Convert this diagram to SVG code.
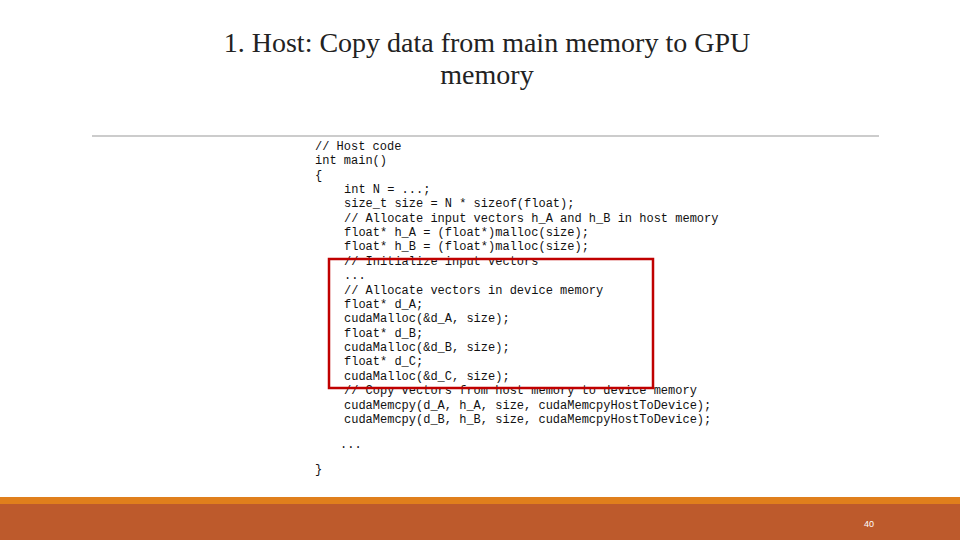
<svg xmlns="http://www.w3.org/2000/svg" width="960" height="540" viewBox="0 0 960 540">
<style>
.t{font-family:"Liberation Serif","DejaVu Serif",serif;font-size:28px;fill:#222;text-anchor:middle}
.c{font-family:"Liberation Mono","DejaVu Sans Mono",monospace;font-size:12px;fill:#111;white-space:pre}
</style>
<rect width="960" height="540" fill="#fff"/>
<text class="t" x="487" y="52">1. Host: Copy data from main memory to GPU</text>
<text class="t" x="487" y="84">memory</text>
<line x1="92" y1="136" x2="879" y2="136" stroke="#999" stroke-width="1"/>
<g id="code">
<text class="c" x="315" y="150">// Host code</text>
<text class="c" x="315" y="164">int main()</text>
<text class="c" x="315" y="179">{</text>
<text class="c" x="344" y="193">int N = ...;</text>
<text class="c" x="344" y="207">size_t size = N * sizeof(float);</text>
<text class="c" x="344" y="222">// Allocate input vectors h_A and h_B in host memory</text>
<text class="c" x="344" y="236">float* h_A = (float*)malloc(size);</text>
<text class="c" x="344" y="250">float* h_B = (float*)malloc(size);</text>
<text class="c" x="344" y="265">// Initialize input vectors</text>
<text class="c" x="344" y="279">...</text>
<text class="c" x="344" y="294">// Allocate vectors in device memory</text>
<text class="c" x="344" y="308">float* d_A;</text>
<text class="c" x="344" y="322">cudaMalloc(&amp;d_A, size);</text>
<text class="c" x="344" y="337">float* d_B;</text>
<text class="c" x="344" y="351">cudaMalloc(&amp;d_B, size);</text>
<text class="c" x="344" y="365">float* d_C;</text>
<text class="c" x="344" y="380">cudaMalloc(&amp;d_C, size);</text>
<text class="c" x="344" y="394">// Copy vectors from host memory to device memory</text>
<text class="c" x="344" y="409">cudaMemcpy(d_A, h_A, size, cudaMemcpyHostToDevice);</text>
<text class="c" x="344" y="423">cudaMemcpy(d_B, h_B, size, cudaMemcpyHostToDevice);</text>
<text class="c" x="340" y="448">...</text>
<text class="c" x="315" y="473">}</text>
</g>
<g id="highlight"><rect x="329" y="259" width="324" height="129" fill="none" stroke="#c00000" stroke-width="2.5"/></g>
<rect x="0" y="497" width="960" height="8" fill="#e07f1c"/>
<rect x="0" y="504" width="960" height="36" fill="#bd5a2c"/>
<text x="869" y="527" font-family="Liberation Sans,sans-serif" font-size="9" fill="#fff" text-anchor="middle">40</text>
</svg>
